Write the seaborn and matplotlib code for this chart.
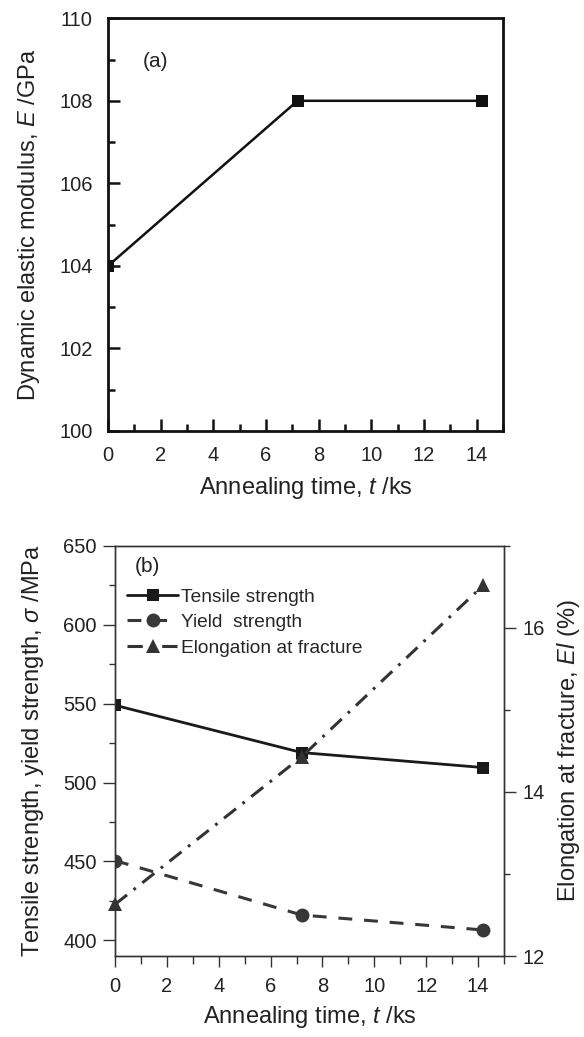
import matplotlib
matplotlib.use("Agg")
import matplotlib.pyplot as plt
import pandas as pd
import seaborn as sns
from matplotlib.ticker import MultipleLocator

# (a) dynamic elastic modulus vs annealing time
time_a = [0, 7.2, 14.2]
modulus = [104, 108, 108]

# (b) tensile properties vs annealing time
time_b = [0, 7.2, 14.2]
tensile = [549, 519, 509.5]
yield_str = [450.5, 416, 406.5]
elongation = [12.63, 14.43, 16.52]

sns.set_theme(style="ticks")
plt.rcParams['font.family'] = ['Liberation Sans', 'DejaVu Sans']
plt.rcParams['mathtext.fontset'] = 'custom'
plt.rcParams['mathtext.rm'] = 'Liberation Sans'
plt.rcParams['mathtext.it'] = 'Liberation Sans:italic'
plt.rcParams['lines.scale_dashes'] = False

FS = 14.5
LABEL_FS = 17
TXT = '#222222'

fig = plt.figure(figsize=(5.84, 10.37), dpi=100)
ax_a = fig.add_axes([0.185, 0.5844, 0.676, 0.398])
ax_b = fig.add_axes([0.197, 0.0781, 0.666, 0.3954])

# ---- panel (a)
df_a = pd.DataFrame({"t": time_a, "E": modulus})
sns.lineplot(data=df_a, x="t", y="E", ax=ax_a, color="#111111", linewidth=1.8,
             marker="s", markersize=9, markeredgewidth=0, zorder=3)
ax_a.set_xlim(0, 15)
ax_a.set_ylim(100, 110)
ax_a.xaxis.set_major_locator(MultipleLocator(2))
ax_a.xaxis.set_minor_locator(MultipleLocator(1))
ax_a.yaxis.set_major_locator(MultipleLocator(2))
ax_a.yaxis.set_minor_locator(MultipleLocator(1))
ax_a.tick_params(which='both', direction='in', top=False, right=False,
                 width=1.8, color='#111111', labelsize=FS, labelcolor=TXT)
ax_a.tick_params(which='major', length=8.6, pad=11)
ax_a.tick_params(which='minor', length=5)
for sp in ax_a.spines.values():
    sp.set_linewidth(2.0)
    sp.set_color('#111111')
ax_a.set_xlabel("Annealing time, $t$ /ks", fontsize=LABEL_FS, color=TXT)
ax_a.set_ylabel("Dynamic elastic modulus, $E$ /GPa", fontsize=LABEL_FS, color=TXT)
ax_a.xaxis.set_label_coords(0.5, -0.106)
ax_a.yaxis.set_label_coords(-0.167, 0.5)
ax_a.text(0.12, 0.896, "(a)", transform=ax_a.transAxes, fontsize=15,
          ha='center', va='center', color=TXT)

# ---- panel (b)
df_b = pd.DataFrame({"t": time_b, "ts": tensile, "ys": yield_str, "el": elongation})
sns.lineplot(data=df_b, x="t", y="ts", ax=ax_b, color="#1a1a1a", linewidth=2.0,
             marker="s", markersize=9, markeredgewidth=0, label="Tensile strength", zorder=3)
sns.lineplot(data=df_b, x="t", y="ys", ax=ax_b, color="#383838", linewidth=2.2,
             linestyle=(0, (10, 8.5)), marker="o", markersize=10, markeredgewidth=0,
             label="Yield  strength", zorder=3)
ax_b2 = ax_b.twinx()
sns.lineplot(data=df_b, x="t", y="el", ax=ax_b2, color="#333333", linewidth=2.2,
             linestyle=(0, (11, 6, 2, 6)), marker="^", markersize=10.5, markeredgewidth=0,
             label="Elongation at fracture", clip_on=False, zorder=3)

for ax in (ax_b, ax_b2):
    if ax.get_legend() is not None:
        ax.get_legend().remove()

ax_b.set_xlim(0, 15)
ax_b.set_ylim(390, 650)
ax_b2.set_ylim(12, 17)
ax_b.xaxis.set_major_locator(MultipleLocator(2))
ax_b.xaxis.set_minor_locator(MultipleLocator(1))
ax_b.yaxis.set_major_locator(MultipleLocator(50))
ax_b.yaxis.set_minor_locator(MultipleLocator(25))
ax_b2.yaxis.set_major_locator(MultipleLocator(2))
ax_b2.yaxis.set_minor_locator(MultipleLocator(1))

for ax in (ax_b, ax_b2):
    ax.tick_params(which='both', direction='out', width=1.0, color='#333333',
                   labelsize=FS, labelcolor=TXT)
    ax.tick_params(which='major', length=8.6, pad=4.5)
    ax.tick_params(which='minor', length=4)
    for sp in ax.spines.values():
        sp.set_linewidth(1.0)
        sp.set_color('#333333')
ax_b.tick_params(axis='x', which='major', length=8, pad=7)
ax_b.tick_params(axis='x', which='minor', length=6)

ax_b.set_xlabel("Annealing time, $t$ /ks", fontsize=LABEL_FS, color=TXT)
ax_b.set_ylabel("Tensile strength, yield strength, $\\sigma$ /MPa", fontsize=LABEL_FS, color=TXT)
ax_b2.set_ylabel("Elongation at fracture, $El$ (%)", fontsize=LABEL_FS, color=TXT)
ax_b.xaxis.set_label_coords(0.5, -0.118)
ax_b.yaxis.set_label_coords(-0.177, 0.5)
ax_b2.yaxis.set_label_coords(1.13, 0.5)
ax_b.text(0.082, 0.951, "(b)", transform=ax_b.transAxes, fontsize=15,
          ha='center', va='center', color=TXT)

h1, l1 = ax_b.get_legend_handles_labels()
h2, l2 = ax_b2.get_legend_handles_labels()
ax_b2.legend(h1 + h2, l1 + l2, loc='upper left', bbox_to_anchor=(0.03, 0.897),
             frameon=False, fontsize=13.8, handlelength=2.7, handletextpad=0.15,
             labelspacing=0.42, borderpad=0, borderaxespad=0)

fig.savefig("out.png", dpi=100)
